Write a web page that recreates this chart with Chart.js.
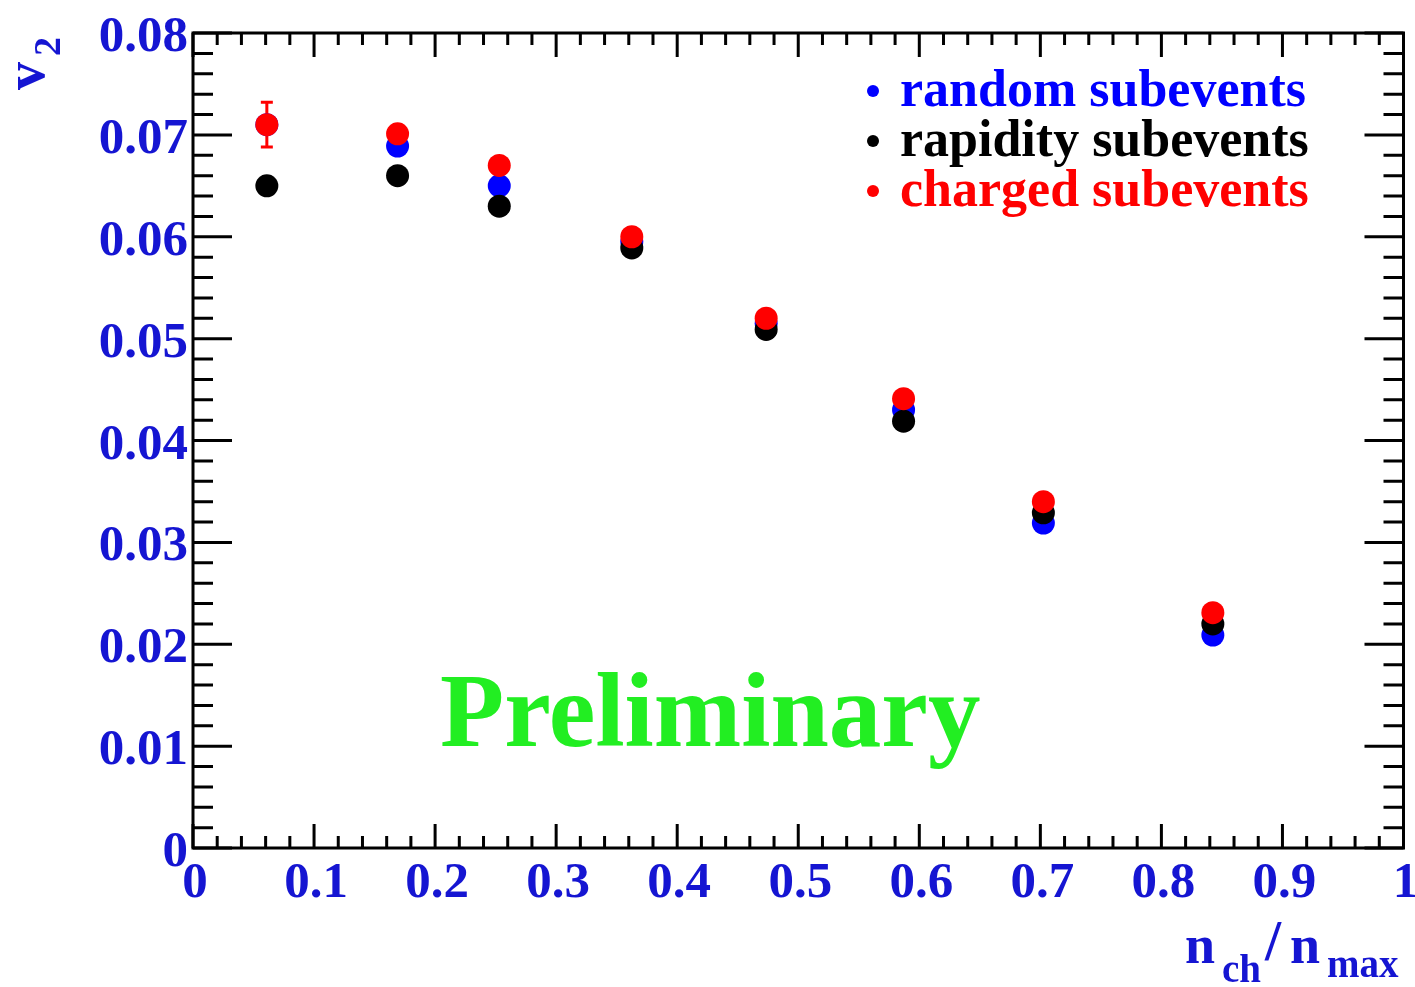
<!DOCTYPE html>
<html>
<head>
<meta charset="utf-8">
<script src="https://cdn.jsdelivr.net/npm/chart.js@4"></script>
<style>
  html, body { margin: 0; padding: 0; background: #fff; }
  #wrap { width: 1415px; height: 987px; }
</style>
</head>
<body>
<div id="wrap"><canvas id="v2Chart" width="1415" height="987"></canvas></div>
<script>
// n_ch / n_max bin centres
const nchFrac = [0.061, 0.169, 0.253, 0.3625, 0.4735, 0.587, 0.7025, 0.8425];

// v2 for the three subevent methods
const v2Random   = [0.0710, 0.0689, 0.0650, 0.0595, 0.0515, 0.0430, 0.0319, 0.0209];
const v2Rapidity = [0.0650, 0.0660, 0.0630, 0.0589, 0.0509, 0.0419, 0.0329, 0.0220];
const v2Charged  = [0.0710, 0.0701, 0.0670, 0.0600, 0.0520, 0.0441, 0.0340, 0.0231];
const v2ChargedErr = [0.0022, 0, 0, 0, 0, 0, 0, 0];

const seriesNames  = ['random subevents', 'rapidity subevents', 'charged subevents'];
const seriesColors = ['#0000ff', '#000000', '#ff0000'];

const xTickLabels = ['0', '0.1', '0.2', '0.3', '0.4', '0.5', '0.6', '0.7', '0.8', '0.9', '1'];
const yTickLabels = ['0', '0.01', '0.02', '0.03', '0.04', '0.05', '0.06', '0.07', '0.08'];

const LABEL_BLUE = '#1515d2';
const SERIF = '"Liberation Serif", "DejaVu Serif", serif';

function toPoints(ys) {
    return nchFrac.map((x, i) => ({ x: x, y: ys[i] }));
}

// frame, inward ticks, tick labels, titles, legend, watermark
const rootStyle = {
    id: 'rootStyle',
    beforeDatasetsDraw(chart) {
        const ctx = chart.ctx;
        const xs = chart.scales.x, ys = chart.scales.y;
        ctx.save();
        ctx.fillStyle = '#22ee22';
        ctx.font = 'bold 105px ' + SERIF;
        ctx.textAlign = 'left';
        ctx.textBaseline = 'alphabetic';
        ctx.fillText('Preliminary', 440, 746);

        // error bars
        ctx.strokeStyle = seriesColors[2];
        ctx.lineWidth = 3;
        v2Charged.forEach((v, i) => {
            const e = v2ChargedErr[i];
            if (!e) return;
            const px = xs.getPixelForValue(nchFrac[i]);
            const top = ys.getPixelForValue(v + e);
            const bot = ys.getPixelForValue(v - e);
            ctx.beginPath();
            ctx.moveTo(px, top); ctx.lineTo(px, bot);
            ctx.moveTo(px - 6, top); ctx.lineTo(px + 6, top);
            ctx.moveTo(px - 6, bot); ctx.lineTo(px + 6, bot);
            ctx.stroke();
        });
        ctx.restore();
    },
    afterDraw(chart) {
        const ctx = chart.ctx;
        const a = chart.chartArea;
        const xs = chart.scales.x, ys = chart.scales.y;
        ctx.save();
        ctx.strokeStyle = '#000';
        ctx.lineWidth = 3;
        ctx.strokeRect(a.left, a.top, a.right - a.left, a.bottom - a.top);

        ctx.beginPath();
        for (let i = 0; i <= 50; i++) {
            const px = xs.getPixelForValue(i / 50);
            const len = i % 5 === 0 ? 24 : 12;
            ctx.moveTo(px, a.bottom); ctx.lineTo(px, a.bottom - len);
            ctx.moveTo(px, a.top); ctx.lineTo(px, a.top + len);
        }
        for (let i = 0; i <= 40; i++) {
            const py = ys.getPixelForValue(i * 0.002);
            const len = i % 5 === 0 ? 39 : 20;
            ctx.moveTo(a.left, py); ctx.lineTo(a.left + len, py);
            ctx.moveTo(a.right, py); ctx.lineTo(a.right - len, py);
        }
        ctx.stroke();

        // tick labels
        ctx.fillStyle = LABEL_BLUE;
        ctx.font = 'bold 51px ' + SERIF;
        ctx.textBaseline = 'alphabetic';
        ctx.textAlign = 'center';
        xTickLabels.forEach(t => {
            ctx.fillText(t, xs.getPixelForValue(parseFloat(t)) + 2, 897);
        });
        ctx.textAlign = 'right';
        yTickLabels.forEach(t => {
            ctx.fillText(t, 188, ys.getPixelForValue(parseFloat(t)) + 18);
        });

        // x title: n_ch / n_max
        ctx.textAlign = 'left';
        ctx.font = 'bold 54px ' + SERIF;
        ctx.fillText('n', 1185, 963);
        ctx.font = 'bold 58px ' + SERIF;
        ctx.fillText('/', 1265, 960);
        ctx.font = 'bold 54px ' + SERIF;
        ctx.fillText('n', 1290, 963);
        ctx.font = 'bold 39px ' + SERIF;
        ctx.fillText('ch', 1222, 982);
        ctx.fillText('max', 1327, 977);

        // y title: v_2 (rotated)
        ctx.save();
        ctx.translate(44, 90);
        ctx.rotate(-Math.PI / 2);
        ctx.font = 'bold 56px ' + SERIF;
        ctx.fillText('v', 0, 0);
        ctx.font = 'bold 38px ' + SERIF;
        ctx.fillText('2', 34, 16);
        ctx.restore();

        // legend
        ctx.font = 'bold 52px ' + SERIF;
        ctx.textAlign = 'left';
        seriesNames.forEach((name, i) => {
            const cy = 91 + i * 50;
            ctx.fillStyle = seriesColors[i];
            ctx.beginPath();
            ctx.arc(873, cy, 6, 0, Math.PI * 2);
            ctx.fill();
            ctx.fillText(name, 900, cy + 15);
        });
        ctx.restore();
    }
};

const seriesData = [v2Random, v2Rapidity, v2Charged];

new Chart(document.getElementById('v2Chart'), {
    type: 'scatter',
    data: {
        datasets: seriesData.map((ys, i) => ({
            label: seriesNames[i],
            data: toPoints(ys),
            backgroundColor: seriesColors[i],
            borderWidth: 0,
            pointRadius: 11.5,
            pointHoverRadius: 11.5,
            order: 2 - i
        }))
    },
    options: {
        responsive: false,
        animation: false,
        devicePixelRatio: 1,
        layout: { padding: { left: 193, top: 33, right: 7, bottom: 139 } },
        plugins: { legend: { display: false }, tooltip: { enabled: false } },
        scales: {
            x: { type: 'linear', min: 0, max: 1, display: false },
            y: { type: 'linear', min: 0, max: 0.08, display: false }
        }
    },
    plugins: [rootStyle]
});
</script>
</body>
</html>
